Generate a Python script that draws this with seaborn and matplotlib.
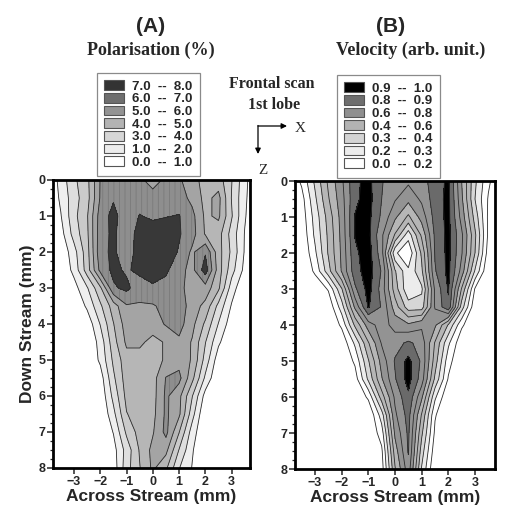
import numpy as np
import pandas as pd
import seaborn as sns
import matplotlib.pyplot as plt
from matplotlib.patches import Patch

# grid of the scan (mm)
x_mm = [-4.0, -3.5, -3.0, -2.5, -2.0, -1.5, -1.0, -0.5, 0.0, 0.5, 1.0, 1.5, 2.0, 2.5, 3.0, 3.5, 4.0]
z_mm = [0.0, 0.5, 1.0, 1.5, 2.0, 2.5, 3.0, 3.5, 4.0, 4.5, 5.0, 5.5, 6.0, 6.5, 7.0, 7.5, 8.0]

# (A) polarisation (%), one row per depth z
pol_rows = [
    [0, 1.4, 2.8, 3.7, 6.05, 6.5, 6.5, 6.2, 5.6, 6.2, 6.2, 5.2, 4.8, 4.5, 3.05, 1.3, 0],
    [0, 1.2, 2.6, 3.6, 6.1, 6.9, 6.6, 6.6, 6.4, 6.6, 6.5, 5.7, 4.7, 5.3, 2.95, 1.2, 0],
    [0, 0.95, 2.7, 3.9, 6.5, 7.3, 6.4, 7.05, 6.8, 6.95, 7.05, 6.3, 4.8, 5.2, 3.1, 1.1, 0],
    [0, 0.6, 2.4, 3.8, 6.6, 7.2, 6.3, 7.5, 7.6, 7.6, 7.1, 6.4, 4.9, 4.4, 2.6, 0.95, 0],
    [0, 0.2, 1.6, 3.6, 6.7, 7.2, 6.3, 7.6, 7.8, 7.6, 6.9, 5.8, 6.9, 4.4, 2.8, 0.9, 0],
    [0, 0.1, 1.3, 3.5, 6.3, 7.25, 6.85, 7.3, 7.6, 7.2, 6.3, 5.7, 7.5, 4.5, 2.4, 0.7, 0],
    [0, 0, 0.6, 1.9, 3.8, 6.85, 7.25, 6.4, 6.8, 6.6, 6.5, 5.2, 5.6, 4.2, 1.5, 0.1, 0],
    [0, 0, 0, 1.2, 2.8, 4.5, 5.9, 5.9, 5.9, 6.3, 6.6, 5.5, 4.7, 2.7, 0.9, 0, 0],
    [0, 0, 0, 0.3, 2.05, 3.95, 5.5, 5.6, 5.5, 6.1, 6.4, 5.3, 3.8, 1.95, 0.4, 0, 0],
    [0, 0, 0, 0, 1.4, 3.6, 5.2, 5.2, 4.7, 5.1, 5.8, 4.9, 3.05, 1.2, 0, 0, 0],
    [0, 0, 0, 0, 1.2, 3.2, 4.6, 4.6, 4.7, 5.1, 5.6, 4.9, 2.6, 0.4, 0, 0, 0],
    [0, 0, 0, 0, 0.5, 2.8, 4.5, 4.6, 4.6, 6.05, 6.3, 4.3, 1.8, 0, 0, 0, 0],
    [0, 0, 0, 0, 0.2, 2.3, 4.3, 4.5, 4.6, 6.2, 5.3, 3.05, 0.6, 0, 0, 0, 0],
    [0, 0, 0, 0, 0, 1.7, 3.95, 4.5, 4.7, 6.2, 5.2, 2.4, 0, 0, 0, 0, 0],
    [0, 0, 0, 0, 0, 1.05, 3.2, 4.4, 4.9, 6.3, 4.05, 1.5, 0, 0, 0, 0, 0],
    [0, 0, 0, 0, 0, 0.6, 2.4, 4.1, 5.3, 5.3, 2.95, 1.1, 0, 0, 0, 0, 0],
    [0, 0, 0, 0, 0, 0.4, 2.6, 3.95, 5.2, 4.2, 2.05, 0.95, 0, 0, 0, 0, 0],
]

# (B) velocity (arb. unit), one row per depth z
vel_rows = [
    [0, 0.12, 0.32, 0.52, 0.68, 0.88, 0.93, 0.81, 0.72, 0.72, 0.76, 0.85, 0.92, 0.60, 0.32, 0.12, 0],
    [0, 0.06, 0.28, 0.49, 0.66, 0.88, 0.94, 0.80, 0.71, 0.63, 0.72, 0.85, 0.93, 0.62, 0.30, 0.09, 0],
    [0, 0.04, 0.24, 0.44, 0.64, 0.905, 0.93, 0.78, 0.62, 0.48, 0.64, 0.84, 0.93, 0.66, 0.36, 0.08, 0],
    [0, 0.02, 0.22, 0.42, 0.63, 0.905, 0.93, 0.72, 0.49, 0.24, 0.52, 0.82, 0.93, 0.72, 0.42, 0.08, 0],
    [0, 0, 0.18, 0.41, 0.62, 0.88, 0.95, 0.74, 0.22, 0.11, 0.42, 0.81, 0.93, 0.71, 0.40, 0.05, 0],
    [0, 0, 0.12, 0.36, 0.61, 0.86, 0.95, 0.79, 0.41, 0.22, 0.38, 0.79, 0.93, 0.66, 0.29, 0, 0],
    [0, 0, 0.02, 0.11, 0.39, 0.78, 0.94, 0.76, 0.45, 0.22, 0.28, 0.72, 0.91, 0.49, 0.09, 0, 0],
    [0, 0, 0, 0.02, 0.25, 0.62, 0.91, 0.79, 0.55, 0.35, 0.35, 0.71, 0.88, 0.35, 0.02, 0, 0],
    [0, 0, 0, 0, 0.12, 0.42, 0.65, 0.75, 0.66, 0.62, 0.68, 0.62, 0.39, 0.12, 0, 0, 0],
    [0, 0, 0, 0, 0.02, 0.22, 0.49, 0.71, 0.76, 0.82, 0.76, 0.49, 0.22, 0.02, 0, 0, 0],
    [0, 0, 0, 0, 0, 0.12, 0.39, 0.64, 0.81, 0.93, 0.78, 0.45, 0.14, 0, 0, 0, 0],
    [0, 0, 0, 0, 0, 0.05, 0.32, 0.59, 0.79, 0.94, 0.75, 0.38, 0.09, 0, 0, 0, 0],
    [0, 0, 0, 0, 0, 0, 0.12, 0.45, 0.72, 0.88, 0.62, 0.22, 0, 0, 0, 0, 0],
    [0, 0, 0, 0, 0, 0, 0, 0.25, 0.68, 0.84, 0.49, 0.11, 0, 0, 0, 0, 0],
    [0, 0, 0, 0, 0, 0, 0, 0.15, 0.62, 0.82, 0.42, 0.08, 0, 0, 0, 0, 0],
    [0, 0, 0, 0, 0, 0, 0, 0.08, 0.55, 0.81, 0.35, 0.04, 0, 0, 0, 0, 0],
    [0, 0, 0, 0, 0, 0, 0, 0.05, 0.49, 0.76, 0.29, 0, 0, 0, 0, 0, 0],
]

pol_levels = [0, 1, 2, 3, 4, 5, 6, 7, 8]
pol_fill = ['#ffffff', '#efefef', '#dedede', '#cacaca', '#b6b6b6', '#a4a4a4', '#8e8e8e', '#383838']
pol_legend = ['7.0  --  8.0', '6.0  --  7.0', '5.0  --  6.0', '4.0  --  5.0',
              '3.0  --  4.0', '1.0  --  2.0', '0.0  --  1.0']
pol_legend_colors = ['#333333', '#6e6e6e', '#939393', '#b3b3b3', '#d6d6d6', '#ececec', '#ffffff']

vel_levels = [0, 0.2, 0.3, 0.4, 0.6, 0.8, 0.9, 1.0]
vel_lines = [0.1, 0.2, 0.3, 0.4, 0.5, 0.6, 0.7, 0.8, 0.9]
vel_fill = ['#ffffff', '#ececec', '#d6d6d6', '#b6b6b6', '#939393', '#6a6a6a', '#000000']
vel_legend = ['0.9  --  1.0', '0.8  --  0.9', '0.6  --  0.8', '0.4  --  0.6',
              '0.3  --  0.4', '0.2  --  0.3', '0.0  --  0.2']
vel_legend_colors = ['#000000', '#6e6e6e', '#8f8f8f', '#b3b3b3', '#d4d4d4', '#ececec', '#ffffff']

sns.set_style('ticks')
plt.rcParams['font.family'] = ['Liberation Sans', 'DejaVu Sans']
plt.rcParams['hatch.color'] = '#7a7a7a'
plt.rcParams['hatch.linewidth'] = 0.6

pol = pd.DataFrame(pol_rows, index=z_mm, columns=x_mm)
vel = pd.DataFrame(vel_rows, index=z_mm, columns=x_mm)

W, H = 512, 508
fig = plt.figure(figsize=(W / 100, H / 100), dpi=100)


def fxy(px, py):
    return px / W, 1 - py / H


axA = fig.add_axes([53 / W, 40 / H, 197 / W, 288 / H])
axB = fig.add_axes([295 / W, 39 / H, 200 / W, 288 / H])

axA.contourf(pol.columns, pol.index, pol.values, levels=pol_levels, colors=pol_fill)
# vertical stripes of the 6-7 % band, drawn over its grey fill
stripes = axA.contourf(pol.columns, pol.index, pol.values, levels=[6, 7], colors='none',
                       hatches=['|||'])
stripes.set_edgecolor('#7a7a7a')
stripes.set_linewidth(0)
axA.contour(pol.columns, pol.index, pol.values, levels=pol_levels[1:-1], colors='#2a2a2a',
            linewidths=0.6)
axA.set_xlim(-3.8, 3.7)

axB.contourf(vel.columns, vel.index, vel.values, levels=vel_levels, colors=vel_fill)
axB.contour(vel.columns, vel.index, vel.values, levels=vel_lines, colors='#2a2a2a',
            linewidths=0.6)
axB.set_xlim(-3.75, 3.75)

for ax in (axA, axB):
    ax.set_ylim(8, 0)
    ax.set_xticks([-3, -2, -1, 0, 1, 2, 3])
    ax.set_yticks(range(9))
    ax.set_yticks(np.arange(0, 8.01, 0.25), minor=True)
    ax.tick_params(axis='both', which='major', direction='out', length=4, width=1.1,
                   labelsize=9, pad=1.5)
    ax.tick_params(axis='y', which='minor', direction='out', length=2.5, width=0.9)
    for lab in ax.get_xticklabels() + ax.get_yticklabels():
        lab.set_fontweight('bold')
    for sp in ax.spines.values():
        sp.set_linewidth(2.0)
        sp.set_color('black')
    ax.set_xlabel('Across Stream (mm)', fontsize=12.5, fontweight='bold', labelpad=1)

axA.set_ylabel('Down Stream (mm)', fontsize=12.5, fontweight='bold', labelpad=2)

# titles
serif = ['Liberation Serif', 'DejaVu Serif']
fig.text(*fxy(151, 26), '(A)', ha='center', va='center', fontsize=15, fontweight='bold')
fig.text(*fxy(151, 50), 'Polarisation (%)', ha='center', va='center', fontsize=13,
         fontweight='bold', family=serif)
fig.text(*fxy(391, 26), '(B)', ha='center', va='center', fontsize=15, fontweight='bold')
fig.text(*fxy(411, 50), 'Velocity (arb. unit.)', ha='center', va='center', fontsize=13,
         fontweight='bold', family=serif)
fig.text(*fxy(272, 84), 'Frontal scan', ha='center', va='center', fontsize=11.5,
         fontweight='bold', family=serif)
fig.text(*fxy(274, 105), '1st lobe', ha='center', va='center', fontsize=11.5,
         fontweight='bold', family=serif)

# orientation arrows
arrow = dict(arrowstyle='-|>', lw=0.9, color='black', mutation_scale=8, shrinkA=0, shrinkB=0)
axA.annotate('', xy=fxy(287, 126), xytext=fxy(258, 126), xycoords='figure fraction',
             textcoords='figure fraction', arrowprops=arrow, annotation_clip=False)
axA.annotate('', xy=fxy(258, 154), xytext=fxy(258, 125.5), xycoords='figure fraction',
             textcoords='figure fraction', arrowprops=arrow, annotation_clip=False)
fig.text(*fxy(300, 129), 'X', ha='center', va='center', fontsize=11, family=serif)
fig.text(*fxy(263, 170), 'Z', ha='center', va='center', fontsize=11, family=serif)

# legends
def make_legend(labels, colors, anchor):
    handles = [Patch(facecolor=c, edgecolor='#555555', linewidth=0.8) for c in colors]
    leg = fig.legend(handles, labels, loc='upper left', bbox_to_anchor=fxy(*anchor),
                     frameon=True, fancybox=False, edgecolor='#8a8a8a', framealpha=1,
                     handlelength=1.5, handleheight=0.75, handletextpad=0.6,
                     labelspacing=0.02, borderpad=0.55, borderaxespad=0,
                     prop=dict(weight='bold', size=9.5))
    leg.get_frame().set_linewidth(0.9)
    return leg


make_legend(pol_legend, pol_legend_colors, (97, 73))
make_legend(vel_legend, vel_legend_colors, (337, 75))

fig.savefig('out.png', dpi=100)
